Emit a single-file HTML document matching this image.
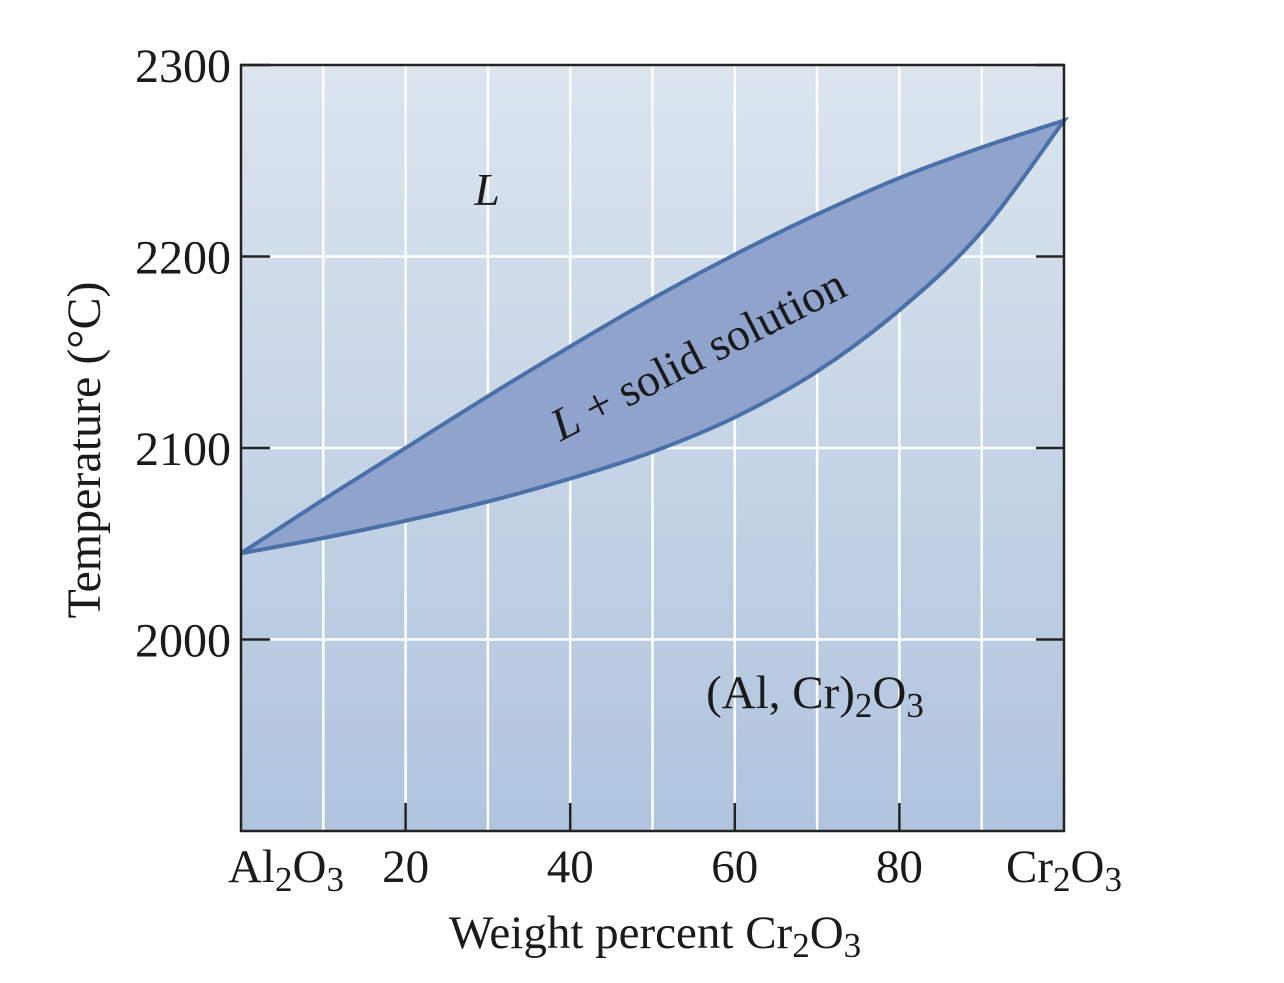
<!DOCTYPE html>
<html><head><meta charset="utf-8"><style>
body{margin:0;background:#fff;width:1284px;height:978px;overflow:hidden}
text{font-family:"Liberation Serif",serif;fill:#1a1a1a}
</style></head><body>
<svg width="1284" height="978">
<defs><linearGradient id="bg" x1="0" y1="0" x2="0" y2="1"><stop offset="0" stop-color="#dce5ee"/><stop offset="1" stop-color="#afc4de"/></linearGradient></defs>
<rect x="241" y="65" width="823" height="766" fill="url(#bg)"/>
<g id="grid"></g>
<path id="lens" fill="#8fa3cc" stroke="#4a70a8" stroke-width="4"/>
<rect x="241" y="65" width="823" height="766" fill="none" stroke="#222" stroke-width="2.5"/>
<g id="ticks"></g>
<g id="labels"></g>
<text x="487" y="205" font-size="46" font-style="italic" text-anchor="middle">L</text>
<text transform="translate(705,368) rotate(-27)" font-size="46" text-anchor="middle"><tspan font-style="italic">L</tspan> + solid solution</text>
<text x="815" y="708" font-size="47" text-anchor="middle">(Al, Cr)<tspan font-size="35" dy="9">2</tspan><tspan dy="-9">O</tspan><tspan font-size="35" dy="9">3</tspan></text>
<text x="655" y="948" font-size="47" text-anchor="middle">Weight percent Cr<tspan font-size="35" dy="9">2</tspan><tspan dy="-9">O</tspan><tspan font-size="35" dy="9">3</tspan></text>
<text transform="translate(100,450) rotate(-90)" font-size="48" text-anchor="middle">Temperature (°C)</text>
</svg>
<script>
const compX=[0,10,20,30,40,50,60,70,80,90,100];
const liquidus=[2045,2073,2100,2127,2153,2178,2201,2222,2241,2257,2271];
const solidus=[2045,2053,2062,2072,2084,2098,2116,2140,2172,2213,2271];
const yTicks=[2000,2100,2200,2300];
const xTicks=[20,40,60,80];
const X=v=>241+v*8.23, Y=t=>831-(t-1900)*1.915;
const ns="http://www.w3.org/2000/svg";
function mk(tag,a,parent){const e=document.createElementNS(ns,tag);for(const k in a)e.setAttribute(k,a[k]);document.getElementById(parent).appendChild(e);return e;}
for(let v=10;v<100;v+=10){const l=mk('line',{x1:X(v),x2:X(v),y1:66,y2:830,stroke:'#fff','stroke-width':2.5},'grid');

}
yTicks.forEach(t=>{if(t<2300){const l=mk('line',{x1:242,x2:1063,y1:Y(t),y2:Y(t),stroke:'#fff','stroke-width':2.5},'grid');

}
const a=mk('line',{x1:241,x2:270,y1:Y(t),y2:Y(t),stroke:'#222','stroke-width':2.5},'ticks');


const b=mk('line',{x1:1036,x2:1064,y1:Y(t),y2:Y(t),stroke:'#222','stroke-width':2.5},'ticks');


const tx=mk('text',{x:231,y:Y(t)+17,'font-size':48,'text-anchor':'end'},'labels');tx.textContent=t;

});
xTicks.forEach(v=>{const a=mk('line',{x1:X(v),x2:X(v),y1:803,y2:831,stroke:'#222','stroke-width':2.5},'ticks');


const tx=mk('text',{x:X(v),y:882,'font-size':47,'text-anchor':'middle'},'labels');tx.textContent=v;

});
const lb=document.getElementById('labels');
lb.insertAdjacentHTML('beforeend','<text x="286" y="882" font-size="47" text-anchor="middle">Al<tspan font-size="35" dy="9">2</tspan><tspan dy="-9">O</tspan><tspan font-size="35" dy="9">3</tspan></text><text x="1064" y="882" font-size="47" text-anchor="middle">Cr<tspan font-size="35" dy="9">2</tspan><tspan dy="-9">O</tspan><tspan font-size="35" dy="9">3</tspan></text>');
function smooth(xs,ys){let p=[];for(let i=0;i<xs.length;i++)p.push([X(xs[i]),Y(ys[i])]);let d='';
for(let i=0;i<p.length-1;i++){const p0=p[i-1]||p[i],p1=p[i],p2=p[i+1],p3=p[i+2]||p2;
const c1=[p1[0]+(p2[0]-p0[0])/6,p1[1]+(p2[1]-p0[1])/6],c2=[p2[0]-(p3[0]-p1[0])/6,p2[1]-(p3[1]-p1[1])/6];
d+=(i?'':'M'+p1[0]+','+p1[1])+'C'+c1+' '+c2+' '+p2;}return d;}
const up=smooth(compX,liquidus);
const low=smooth(compX.slice().reverse(),solidus.slice().reverse()).replace(/^M[^C]*/,'L'+X(100)+','+Y(solidus[solidus.length-1]));
document.getElementById('lens').setAttribute('d',up+low+'Z');
</script>
</body></html>
